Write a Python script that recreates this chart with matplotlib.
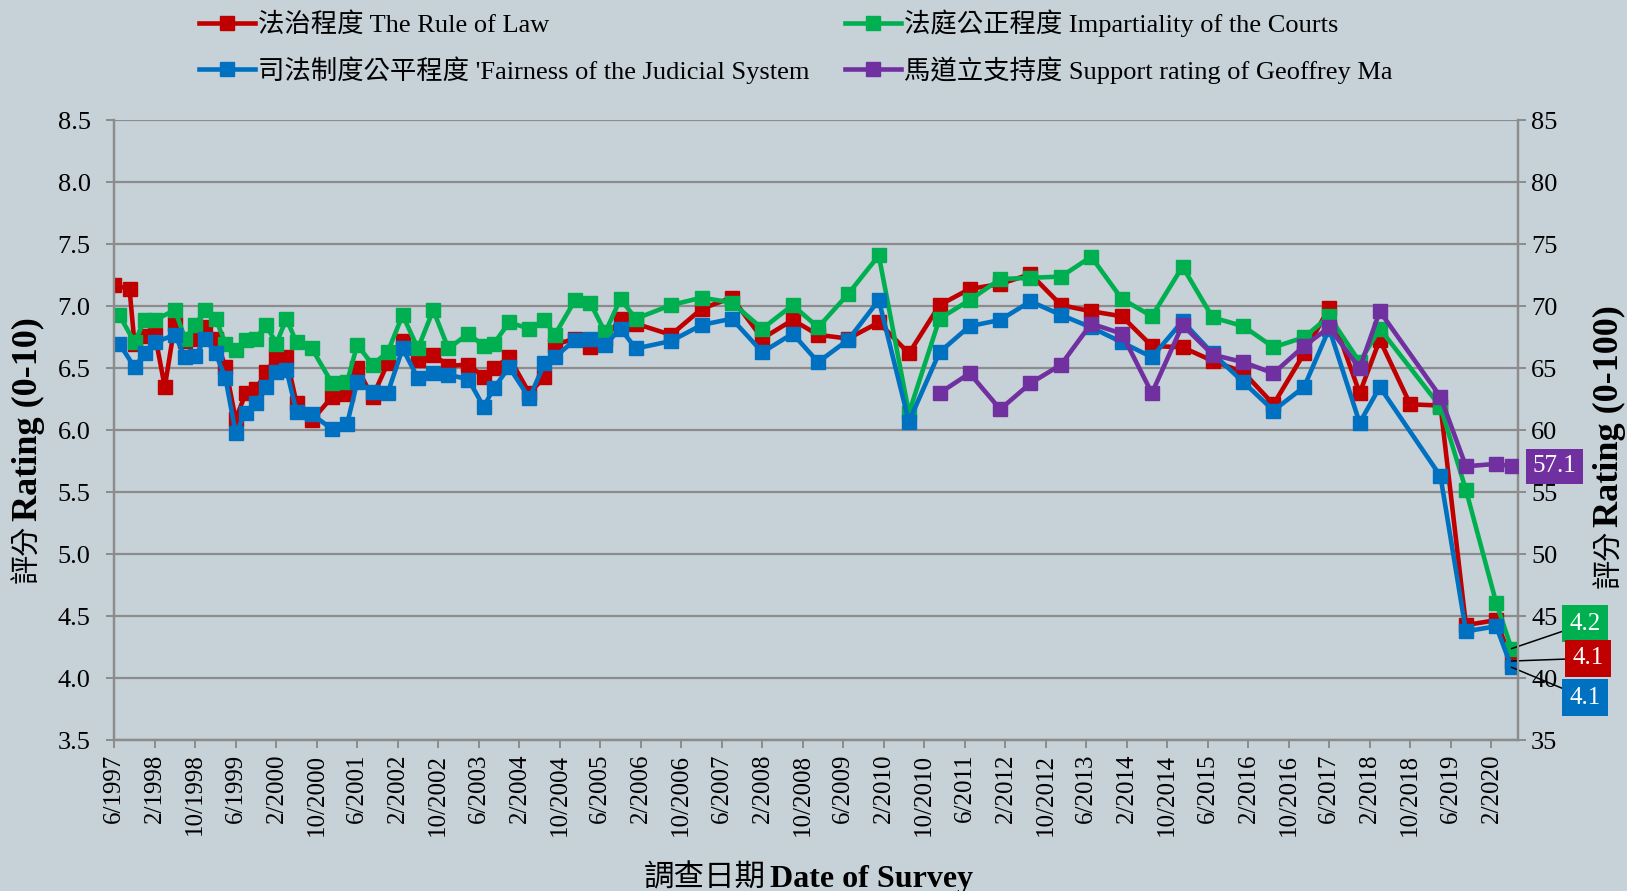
import numpy as np
import pandas as pd
import matplotlib
matplotlib.use("Agg")
import matplotlib.pyplot as plt

plt.rcParams['font.family'] = ['Liberation Serif', 'Noto Sans CJK TC']

# survey dates (rule of law / impartiality / fairness share these)
dates = ["1997-06", "1997-07", "1997-09", "1997-10", "1997-12", "1998-02", "1998-04",
         "1998-06", "1998-08", "1998-10", "1998-12", "1999-02", "1999-04", "1999-06",
         "1999-08", "1999-10", "1999-12", "2000-02", "2000-04", "2000-06", "2000-09",
         "2001-01", "2001-04", "2001-06", "2001-09", "2001-12", "2002-03", "2002-06",
         "2002-09", "2002-12", "2003-04", "2003-07", "2003-09", "2003-12", "2004-04",
         "2004-07", "2004-09", "2005-01", "2005-04", "2005-07", "2005-10", "2006-01",
         "2006-08", "2007-02", "2007-08", "2008-02", "2008-08", "2009-01", "2009-07",
         "2010-01", "2010-07", "2011-01", "2011-07", "2012-01", "2012-07", "2013-01",
         "2013-07", "2014-01", "2014-07", "2015-01", "2015-07", "2016-01", "2016-07",
         "2017-01", "2017-06", "2017-12", "2018-04", "2018-10", "2019-04", "2019-09",
         "2020-03", "2020-06"]
nan = np.nan
rule_of_law = [7.17, nan, 7.14, 6.70, 6.76, 6.77, 6.35,
               6.86, 6.72, 6.74, 6.83, 6.74, 6.51, 6.09,
               6.30, 6.33, 6.47, 6.59, 6.59, 6.22, 6.08,
               6.27, 6.29, 6.50, 6.27, 6.54, 6.72, 6.57,
               6.61, 6.52, 6.53, 6.43, 6.50, 6.59, 6.30,
               6.43, 6.69, 6.74, 6.67, 6.74, 6.90, 6.86,
               6.77, 6.98, 7.07, 6.74, 6.89, 6.77, 6.74,
               6.87, 6.62, 7.01, 7.14, 7.18, 7.26, 7.01,
               6.96, 6.92, 6.68, 6.67, 6.56, 6.47, 6.21,
               6.62, 6.99, 6.30, 6.73, 6.21, 6.20, 4.43,
               4.47, 4.14]
impartiality = [nan, 6.93, nan, 6.71, 6.89, 6.89, nan,
                6.97, 6.74, 6.85, 6.97, 6.90, 6.70, 6.65,
                6.73, 6.74, 6.85, 6.70, 6.90, 6.71, 6.66,
                6.38, 6.39, 6.69, 6.53, 6.63, 6.93, 6.66,
                6.97, 6.66, 6.78, 6.68, 6.70, 6.87, 6.82,
                6.89, 6.77, 7.05, 7.03, 6.79, 7.06, 6.90,
                7.01, 7.07, 7.03, 6.82, 7.01, 6.83, 7.10,
                7.41, 6.14, 6.90, 7.05, 7.22, 7.23, 7.24,
                7.40, 7.06, 6.92, 7.32, 6.91, 6.84, 6.67,
                6.75, 6.92, 6.55, 6.82, nan, 6.19, 5.52,
                4.61, 4.24]
fairness = [nan, 6.70, nan, 6.51, 6.62, 6.71, nan,
            6.77, 6.59, 6.60, 6.74, 6.62, 6.42, 5.98,
            6.14, 6.22, 6.35, 6.47, 6.49, 6.15, 6.13,
            6.01, 6.05, 6.39, 6.31, 6.30, 6.66, 6.42,
            6.46, 6.45, 6.41, 6.19, 6.34, 6.51, 6.26,
            6.54, 6.59, 6.73, 6.74, 6.69, 6.82, 6.66,
            6.72, 6.85, 6.90, 6.63, 6.78, 6.55, 6.73,
            7.05, 6.07, 6.63, 6.84, 6.89, 7.04, 6.93,
            6.83, 6.71, 6.59, 6.88, 6.62, 6.39, 6.16,
            6.35, 6.82, 6.06, 6.35, nan, 5.63, 4.38,
            4.42, 4.09]

# Geoffrey Ma support rating (0-100, right axis)
ma_dates = ["2011-01", "2011-07", "2012-01", "2012-07", "2013-01", "2013-07", "2014-01",
            "2014-07", "2015-01", "2015-07", "2016-01", "2016-07", "2017-01", "2017-06",
            "2017-12", "2018-04", "2019-04", "2019-09", "2020-03", "2020-06"]
ma_support = [63.0, 64.6, 61.7, 63.8, 65.3, 68.6, 67.8,
              63.0, 68.5, 66.1, 65.5, 64.6, 66.8, 68.3,
              65.0, 69.6, 62.7, 57.1, 57.3, 57.1]

labels = ["法治程度 The Rule of Law", "法庭公正程度 Impartiality of the Courts",
          "司法制度公平程度 'Fairness of the Judicial System", "馬道立支持度 Support rating of Geoffrey Ma"]
colors = ["#C00000", "#00B050", "#0070C0", "#7030A0"]
bg = "#C6D1D8"

x = pd.to_datetime(dates)
xm = pd.to_datetime(ma_dates)

fig = plt.figure(figsize=(16.27, 8.91), dpi=100, facecolor=bg)
ax = fig.add_axes([0.0702, 0.169, 0.8628, 0.696])
ax.set_facecolor(bg)
ax2 = ax.twinx()

handles = {}
for name, vals, c in [(labels[0], rule_of_law, colors[0]),
                      (labels[1], impartiality, colors[1]),
                      (labels[2], fairness, colors[2])]:
    v = np.array(vals, dtype=float)
    ok = ~np.isnan(v)
    h, = ax.plot(x[ok], v[ok], color=c, lw=3.3, marker="s", ms=9.5, zorder=3)
    handles[name] = h
h, = ax2.plot(xm, ma_support, color=colors[3], lw=3.3, marker="s", ms=9.5, zorder=3)
handles[labels[3]] = h

ax.set_ylim(3.5, 8.5)
ax.set_yticks(np.arange(3.5, 8.51, 0.5))
ax.set_yticklabels([f"{t:.1f}" for t in np.arange(3.5, 8.51, 0.5)])
ax2.set_ylim(35, 85)
ax2.set_yticks(np.arange(35, 86, 5))

ax.set_xlim(pd.Timestamp("1997-06-01"), pd.Timestamp("2020-07-10"))
ticks = pd.date_range("1997-06-01", "2020-02-01", freq="8MS")
ax.set_xticks(ticks)
ax.set_xticklabels([f"{d.month}/{d.year}" for d in ticks], rotation=90, fontsize=18)

ax.grid(axis="y", color="#8C8C8C", lw=1.6)
ax.set_axisbelow(True)
for a in (ax, ax2):
    for s in a.spines.values():
        s.set_color("#8C8C8C")
        s.set_linewidth(1.6)
    a.spines["top"].set_visible(False)
    a.tick_params(colors="#8C8C8C", labelcolor="black", labelsize=19, width=1.4, length=6)
ax.tick_params(axis="x", labelsize=18)
ax.tick_params(axis="y", pad=11)
ax2.patch.set_visible(False)

# axis titles: Chinese part regular, English part bold
fig.text(0.0172, 0.411, "評分", rotation=90, ha="center", va="top", fontsize=21)
fig.text(0.0172, 0.415, "Rating (0-10)", rotation=90, ha="center", va="bottom",
         fontsize=26, fontweight="bold")
fig.text(0.9895, 0.405, "評分", rotation=90, ha="center", va="top", fontsize=21)
fig.text(0.9895, 0.409, "Rating (0-100)", rotation=90, ha="center", va="bottom",
         fontsize=26, fontweight="bold")
fig.text(0.4705, 0.013, "調查日期", ha="right", va="center", fontsize=22)
fig.text(0.4735, 0.013, "Date of Survey", ha="left", va="center", fontsize=23, fontweight="bold")

# end value tags
last = x[-1]
tag = dict(color="white", fontsize=18, va="center", ha="center")
ax2.annotate(f"{ma_support[-1]:.1f}", xy=(xm[-1], ma_support[-1]), xytext=(31, 0),
             textcoords="offset points", bbox=dict(boxstyle="square,pad=0.25", fc=colors[3], ec="none"),
             **tag)
for vals, c, off in [(impartiality, colors[1], (53, 18)),
                     (rule_of_law, colors[0], (55, 2)),
                     (fairness, colors[2], (53, -22))]:
    ax.annotate(f"{vals[-1]:.1f}", xy=(last, vals[-1]), xytext=off, textcoords="offset points",
                bbox=dict(boxstyle="square,pad=0.3", fc=c, ec="none"),
                arrowprops=dict(arrowstyle="-", color="black", lw=1.1, shrinkA=0, shrinkB=0),
                annotation_clip=False, **tag)

order = [labels[0], labels[2], labels[1], labels[3]]
fig.legend([handles[k] for k in order], order, loc="upper left", bbox_to_anchor=(0.108, 1.016),
           ncol=2, frameon=False, fontsize=19, handlelength=2.1, handletextpad=0.12,
           columnspacing=1.35, labelspacing=0.72)

fig.savefig("out.png", dpi=100, facecolor=bg)
